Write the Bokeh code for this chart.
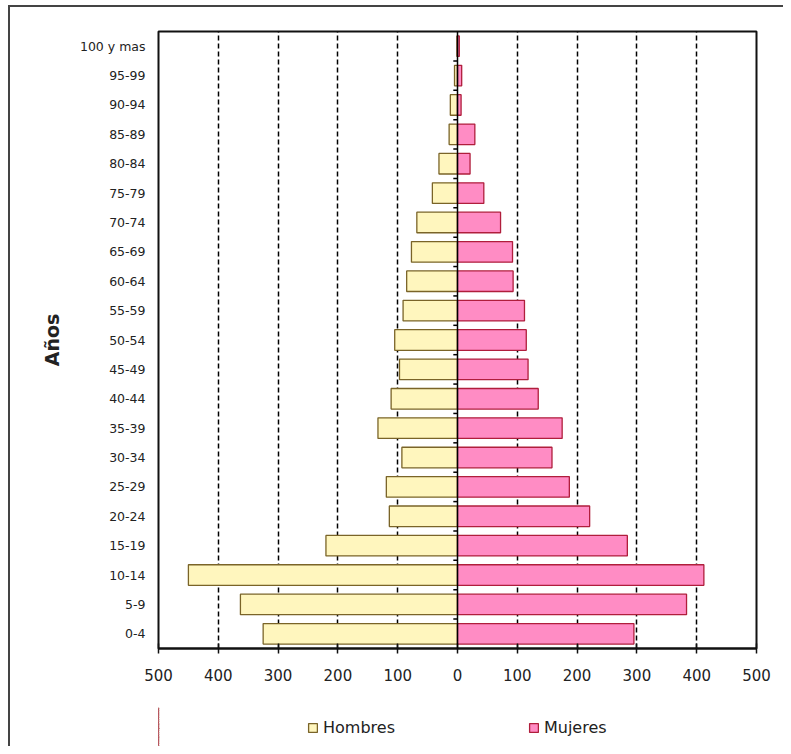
from bokeh.plotting import figure
from bokeh.layouts import column
from bokeh.models import (FactorRange, Range1d, FixedTicker, Legend, LegendItem,
                          Span, ColumnDataSource)
from bokeh.embed import file_html
from bokeh.resources import INLINE

# ---- data ----
categories = ["0-4", "5-9", "10-14", "15-19", "20-24", "25-29", "30-34", "35-39",
              "40-44", "45-49", "50-54", "55-59", "60-64", "65-69", "70-74",
              "75-79", "80-84", "85-89", "90-94", "95-99", "100 y mas"]
hombres = [325, 363, 450, 220, 114, 119, 93, 133, 111, 97, 105, 91, 85, 77, 68,
           42, 31, 14, 12, 5, 1]
mujeres = [295, 383, 412, 284, 221, 187, 158, 175, 135, 118, 115, 112, 93, 92, 72,
           44, 21, 29, 6, 7, 3]
x_ticks = [-500, -400, -300, -200, -100, 0, 100, 200, 300, 400, 500]
grid_ticks = [-400, -300, -200, -100, 100, 200, 300, 400]
series_names = ["Hombres", "Mujeres"]

FONT = "DejaVu Sans"
H_FILL, H_LINE = "#FFF6BE", "#7A6428"
M_FILL, M_LINE = "#FF8CC4", "#B01E3C"

src = ColumnDataSource(dict(y=categories,
                            m=[-v for v in hombres],
                            f=mujeres))

p = figure(width=773, height=700,
           y_range=FactorRange(factors=categories, range_padding=0),
           x_range=Range1d(-500, 500),
           output_backend="svg", toolbar_location=None,
           min_border_left=148, min_border_right=27,
           min_border_top=24, min_border_bottom=59)

p.outline_line_color = "#111111"
p.outline_line_width = 2
p.background_fill_color = "white"
p.border_fill_color = "white"

# grid
p.ygrid.visible = False
p.xgrid.ticker = FixedTicker(ticks=grid_ticks)
p.xgrid.grid_line_color = "black"
p.xgrid.grid_line_dash = "5 3"
p.xgrid.grid_line_width = 1.5

# bars
p.hbar(y="y", left="m", right=0, height=0.7, source=src,
       fill_color=H_FILL, line_color=H_LINE, line_width=1.3)
p.hbar(y="y", left=0, right="f", height=0.7, source=src,
       fill_color=M_FILL, line_color=M_LINE, line_width=1.3)

# zero axis line with category ticks (at category boundaries)
p.add_layout(Span(location=0, dimension="height", line_color="black", line_width=1.5))
bounds = [[c, -0.5] for c in categories[1:]]
tick_src = ColumnDataSource(dict(x0=[-7] * len(bounds), x1=[0] * len(bounds),
                                 y=bounds))
p.segment(x0="x0", x1="x1", y0="y", y1="y", source=tick_src,
          line_color="black", line_width=1.5)

# x axis
xa = p.xaxis[0]
xa.ticker = FixedTicker(ticks=x_ticks)
xa.major_label_overrides = {t: str(abs(t)) for t in x_ticks}
xa.major_label_text_font = FONT
xa.major_label_text_font_size = "15px"
xa.major_label_text_color = "#222222"
xa.axis_line_color = "#111111"
xa.axis_line_width = 2
xa.major_tick_line_color = "#111111"
xa.major_tick_line_width = 1.5
xa.major_tick_in = 5
xa.major_tick_out = 5
xa.minor_tick_line_color = None
xa.major_label_standoff = 15

# y axis
ya = p.yaxis[0]
ya.axis_line_color = None
ya.major_tick_line_color = None
ya.minor_tick_line_color = None
ya.major_label_text_font = FONT
ya.major_label_text_font_size = "12.5px"
ya.major_label_text_color = "#222222"
ya.major_label_standoff = 7
ya.axis_label = "Años"
ya.axis_label_text_font = FONT
ya.axis_label_text_font_style = "bold"
ya.axis_label_text_font_size = "19px"
ya.axis_label_text_color = "#222222"
ya.axis_label_standoff = 14

# ---- legend strip below the chart ----
# (same series drawn on a range where they fall out of view; only the legend shows)
pl = figure(width=773, height=39,
            x_range=Range1d(700, 800),
            y_range=FactorRange(factors=categories),
            output_backend="svg", toolbar_location=None,
            x_axis_location=None, y_axis_location=None, min_border=0)
pl.grid.visible = False
pl.outline_line_color = None
pl.border_fill_color = "white"
pl.background_fill_color = "white"
rh = pl.hbar(y="y", left="m", right=0, height=0.7, source=src,
             fill_color=H_FILL, line_color=H_LINE, line_width=1.3)
rm = pl.hbar(y="y", left=0, right="f", height=0.7, source=src,
             fill_color=M_FILL, line_color=M_LINE, line_width=1.3)
legend = Legend(items=[LegendItem(label=series_names[0], renderers=[rh]),
                       LegendItem(label=series_names[1], renderers=[rm])],
                orientation="horizontal", location=(149, 9),
                spacing=133, padding=0, margin=0,
                glyph_width=11, glyph_height=11, label_standoff=5,
                label_text_font=FONT, label_text_font_size="16px",
                label_text_color="#222222",
                border_line_color=None, background_fill_alpha=0)
pl.add_layout(legend)

layout = column(p, pl, spacing=0)
layout.styles = {"border-top": "2px solid #444", "border-left": "2px solid #444",
                 "margin-top": "5px", "margin-left": "8px"}

open("out.html", "w").write(file_html(layout, INLINE))
